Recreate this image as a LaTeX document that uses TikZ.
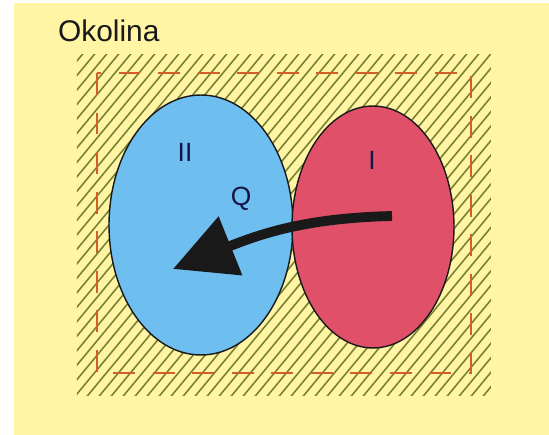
\documentclass[tikz,border=0pt]{standalone}
\usepackage{fontspec}
\setsansfont{Liberation Sans}
\usepackage{tikz}
\usetikzlibrary{arrows.meta, shapes.geometric}
\tikzset{every picture/.style={/utils/exec={\sffamily}}}
\definecolor{bgyellow}{RGB}{255,245,165}
\definecolor{hatchgreen}{RGB}{120,130,50}
\definecolor{borderred}{RGB}{210,95,40}
\definecolor{sysblue}{RGB}{110,190,240}
\definecolor{sysred}{RGB}{225,80,105}
\definecolor{inkdark}{RGB}{25,25,25}
\tikzset{
  hatchline/.style={hatchgreen, line width=0.9pt},
  boundary/.style={borderred, line width=1.6pt, dash pattern=on 12.5pt off 10pt},
  system/.style={ellipse, draw=inkdark, line width=0.8pt, inner sep=0pt},
  syslabel/.style={text=inkdark!80!blue, font=\fontsize{15}{15}\selectfont},
  heatflow/.style={inkdark, line width=5.6pt, -{Triangle[length=1.24cm, width=1.22cm]}}
}

\begin{document}
\begin{tikzpicture}[x=0.02cm, y=-0.02cm]
            \useasboundingbox (0,0) rectangle (549,435);
            \fill[white] (0,0) rectangle (549,435);
            \fill[bgyellow] (14,3) rectangle (549,435);

            \node[anchor=base west, font=\fontsize{17}{17}\selectfont, text=inkdark] (okolina) at (52,42) {Okolina};

            % surroundings
            \begin{scope}
              \clip (77,55) rectangle (491,396);
              \foreach \x in {-300,-288,...,500}
                \draw[hatchline] (\x,400) -- ++(290,-350);
            \end{scope}
            \draw[boundary] (97,73) rectangle (471,373);

            \node[system, fill=sysblue, minimum width=3.68cm, minimum height=5.2cm] (sys2) at (201,225) {};
            \node[system, fill=sysred, minimum width=3.24cm, minimum height=4.84cm] (sys1) at (373,227) {};

            \node[syslabel] (lab2) at (185,152) {II};
            \node[syslabel] (lab1) at (372,160) {I};
            \node[syslabel] (labq) at (241,199) {Q};

            \coordinate (qstart) at (392,216);
            \coordinate (qend) at (173,269);
            \draw[heatflow] (qstart) .. controls (310,218) and (265,232) .. (qend);
        \end{tikzpicture}
\end{document}
